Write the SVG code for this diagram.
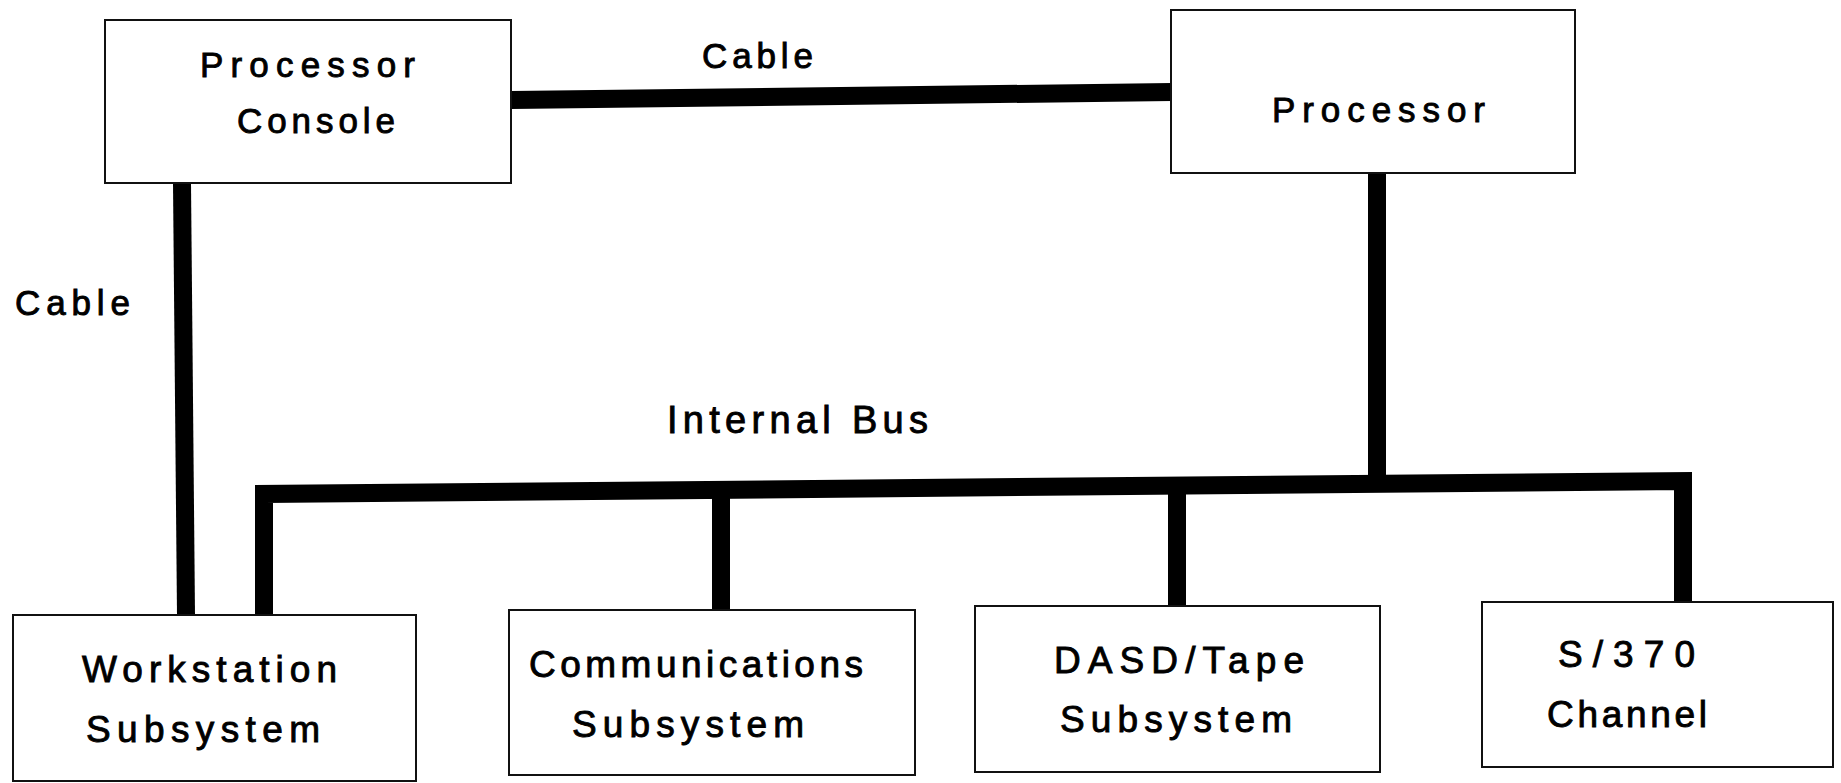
<svg xmlns="http://www.w3.org/2000/svg" width="1841" height="783" viewBox="0 0 1841 783">
<style>
.box{fill:#fff;stroke:#111;stroke-width:2}
.t{font-family:"Liberation Sans",Arial,sans-serif;fill:#000;stroke:#000;stroke-width:0.9;font-size:35px}
.tl{font-size:37px}
.c{fill:none;stroke:#000;stroke-width:18;stroke-linejoin:miter;stroke-linecap:butt}
</style>
<rect width="1841" height="783" fill="#fff"/>
<g id="connectors">
<line class="c" x1="511" y1="100" x2="1172" y2="92"/>
<line class="c" x1="182" y1="183" x2="186" y2="615"/>
<line class="c" x1="1377" y1="173" x2="1377" y2="482"/>
<polyline class="c" points="264,615 264,494 1683,481 1683,602"/>
<line class="c" x1="721" y1="490" x2="721" y2="610"/>
<line class="c" x1="1177" y1="486" x2="1177" y2="606"/>
<text class="t" x="702" y="68" textLength="111">Cable</text>
<text class="t" x="15" y="315" textLength="115">Cable</text>
<text class="t" x="667" y="433" textLength="261" style="font-size:38px">Internal Bus</text>
</g>
<g id="processor-console">
<rect class="box" x="105" y="20" width="406" height="163"/>
<text class="t" x="200" y="77" textLength="215">Processor</text>
<text class="t" x="237" y="133" textLength="158">Console</text>
</g>
<g id="processor">
<rect class="box" x="1171" y="10" width="404" height="163"/>
<text class="t" x="1272" y="122" textLength="213">Processor</text>
</g>
<g id="workstation">
<rect class="box" x="13" y="615" width="403" height="166"/>
<text class="t tl" x="82" y="682" textLength="255">Workstation</text>
<text class="t tl" x="86" y="742" textLength="234">Subsystem</text>
</g>
<g id="communications">
<rect class="box" x="509" y="610" width="406" height="165"/>
<text class="t tl" x="529" y="677" textLength="334">Communications</text>
<text class="t tl" x="572" y="737" textLength="232">Subsystem</text>
</g>
<g id="dasd-tape">
<rect class="box" x="975" y="606" width="405" height="166"/>
<text class="t tl" x="1054" y="673" textLength="250">DASD/Tape</text>
<text class="t tl" x="1060" y="732" textLength="232">Subsystem</text>
</g>
<g id="s370">
<rect class="box" x="1482" y="602" width="351" height="165"/>
<text class="t tl" x="1558" y="667" textLength="137">S/370</text>
<text class="t tl" x="1547" y="727" textLength="160">Channel</text>
</g>
</svg>
